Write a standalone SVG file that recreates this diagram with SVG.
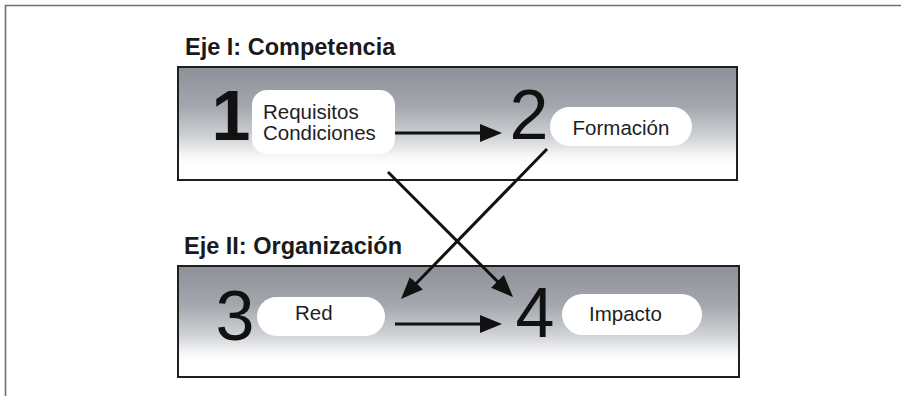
<svg xmlns="http://www.w3.org/2000/svg" width="901" height="396" viewBox="0 0 901 396">
  <style>
    .title { font-family: "Liberation Sans", Arial, sans-serif; font-weight: bold; font-size: 23.5px; fill: #1a1a1a; }
    .num { font-family: "Liberation Sans", Arial, sans-serif; font-size: 70px; fill: #111; text-anchor: middle; }
    .lbl { font-family: "Liberation Sans", Arial, sans-serif; font-size: 20.5px; fill: #1e1e1e; }
    .panel { stroke: #1f1f1f; stroke-width: 2; fill: url(#panelGrad); }
    .pill { fill: #ffffff; }
    .conn { stroke: #111; stroke-width: 3; fill: none; marker-end: url(#arrow); }
    .frame { stroke: #707070; stroke-width: 1.6; fill: none; }
  </style>
  <defs>
    <linearGradient id="panelGrad" x1="0" y1="0" x2="0" y2="1">
      <stop offset="0" stop-color="#8d9097"/>
      <stop offset="0.35" stop-color="#a4a7ad"/>
      <stop offset="0.6" stop-color="#cbced2"/>
      <stop offset="0.78" stop-color="#f4f5f6"/>
      <stop offset="0.85" stop-color="#ffffff"/>
      <stop offset="1" stop-color="#ffffff"/>
    </linearGradient>
    <marker id="arrow" markerUnits="userSpaceOnUse" viewBox="0 0 22 18" refX="16" refY="9" markerWidth="22" markerHeight="18" orient="auto">
      <path d="M0,0 L22,9 L0,18 Z" fill="#111"/>
    </marker>
  </defs>

  <rect width="901" height="396" fill="#ffffff"/>
  <path class="frame" d="M5.5,396 L5.5,5.5 L901,5.5"/>

  <g id="eje1">
    <text class="title" x="185" y="55">Eje I: Competencia</text>
    <rect class="panel" x="178" y="67" width="559" height="113"/>
  </g>
  <g id="eje2">
    <text class="title" x="184" y="254">Eje II: Organización</text>
    <rect class="panel" x="178" y="266" width="561" height="111"/>
  </g>

  <g id="node1">
    <text class="num" x="231" y="140" font-weight="bold" font-size="67">1</text>
    <rect class="pill" x="252" y="90" width="143" height="64" rx="15"/>
    <text class="lbl" x="263" y="119">Requisitos</text>
    <text class="lbl" x="263" y="140">Condiciones</text>
  </g>
  <g id="node2">
    <text class="num" x="529" y="139">2</text>
    <rect class="pill" x="550" y="107" width="142" height="39" rx="19.5"/>
    <text class="lbl" x="621" y="135" text-anchor="middle">Formación</text>
  </g>
  <g id="node3">
    <text class="num" x="235" y="340" font-size="62">3</text>
    <rect class="pill" x="257" y="297" width="128" height="39" rx="19.5"/>
    <text class="lbl" x="295" y="320">Red</text>
  </g>
  <g id="node4">
    <text class="num" x="535" y="337">4</text>
    <rect class="pill" x="562" y="294" width="140" height="41" rx="20.5"/>
    <text class="lbl" x="589" y="321">Impacto</text>
  </g>

  <g id="connectors">
    <line class="conn" x1="395" y1="133" x2="496" y2="133"/>
    <line class="conn" x1="395" y1="324" x2="496" y2="324"/>
    <line class="conn" x1="388" y1="172" x2="508.8" y2="292.8"/>
    <line class="conn" x1="547" y1="149" x2="405.2" y2="294.7"/>
  </g>
</svg>
